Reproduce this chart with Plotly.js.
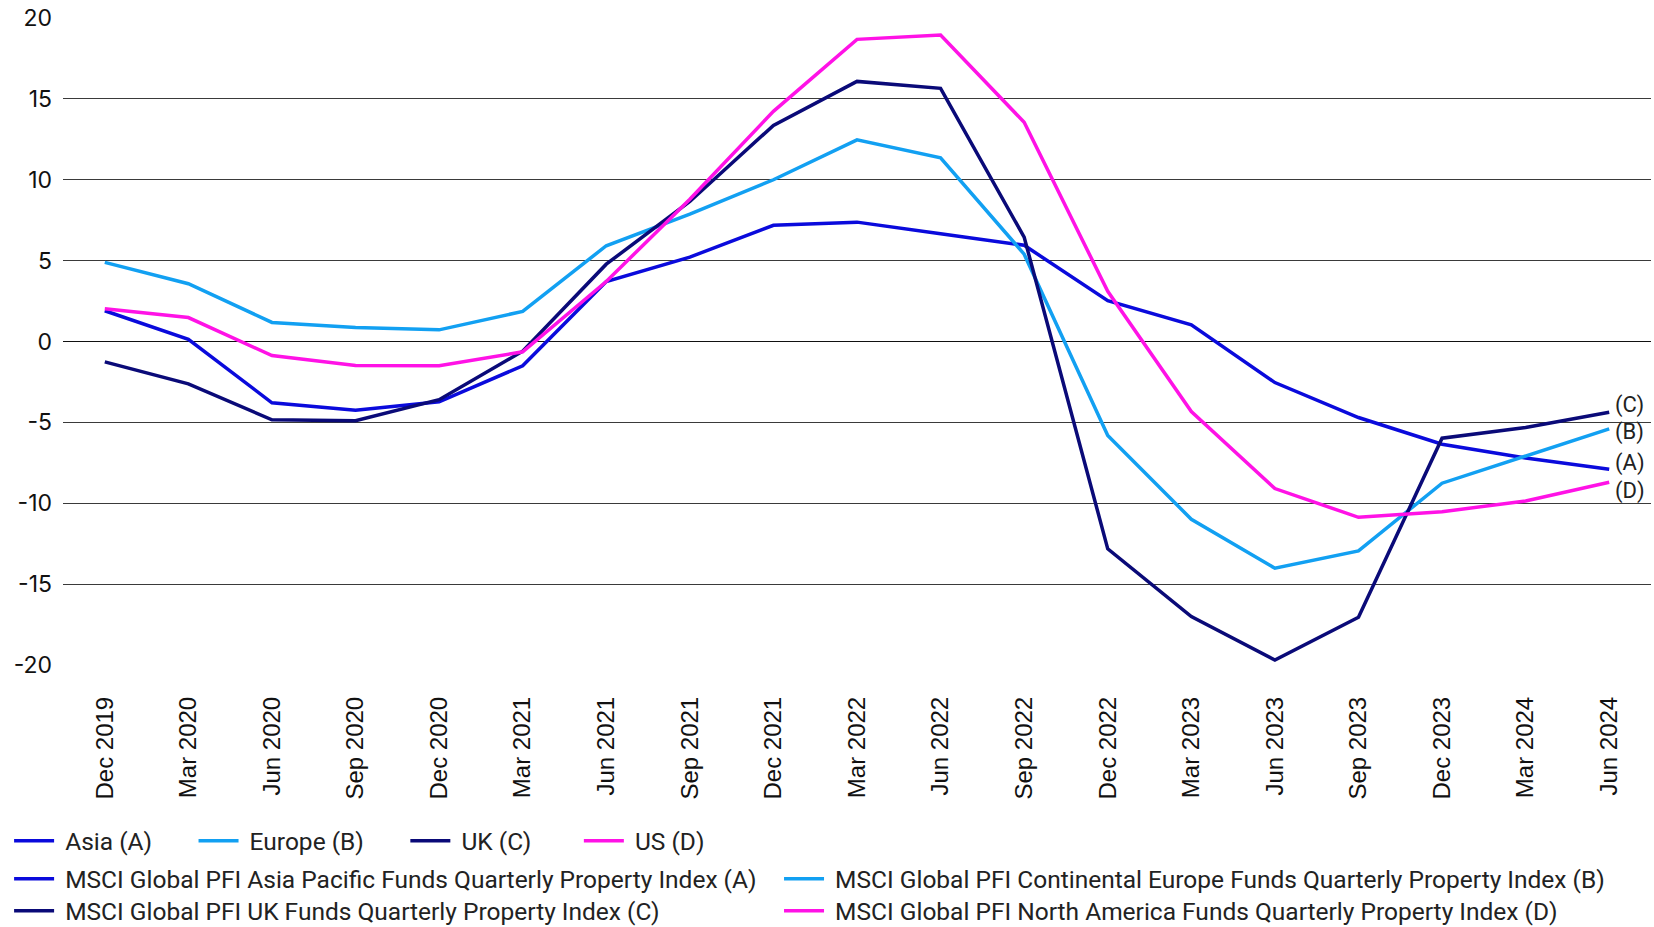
<!DOCTYPE html>
<html>
<head>
<meta charset="utf-8">
<script src="https://cdn.plot.ly/plotly-3.0.1.min.js"></script>
<style>html,body{margin:0;padding:0;background:#fff;}#chart{width:1654px;height:927px;}</style>
</head>
<body>
<div id="chart"></div>
<script>
const categories = ['Dec 2019','Mar 2020','Jun 2020','Sep 2020','Dec 2020','Mar 2021','Jun 2021','Sep 2021','Dec 2021','Mar 2022','Jun 2022','Sep 2022','Dec 2022','Mar 2023','Jun 2023','Sep 2023','Dec 2023','Mar 2024','Jun 2024'];
const asia   = [1.9, 0.14, -3.79, -4.25, -3.73, -1.5, 3.71, 5.22, 7.18, 7.38, 6.66, 5.95, 2.52, 1.03, -2.54, -4.7, -6.35, -7.2, -7.9];
const europe = [4.89, 3.57, 1.18, 0.87, 0.72, 1.86, 5.92, 7.88, 10.0, 12.47, 11.36, 5.4, -5.81, -10.99, -14.02, -12.95, -8.76, -7.07, -5.4];
const uk     = [-1.26, -2.62, -4.84, -4.9, -3.6, -0.6, 4.78, 8.66, 13.36, 16.08, 15.65, 6.45, -12.82, -17.01, -19.69, -17.05, -5.98, -5.32, -4.37];
const us     = [2.02, 1.48, -0.87, -1.48, -1.5, -0.64, 3.71, 8.8, 14.23, 18.68, 18.95, 13.55, 3.1, -4.33, -9.09, -10.87, -10.52, -9.86, -8.7];
const yTickVals = [-20, -15, -10, -5, 0, 5, 10, 15, 20];
const yTickText = ['-20', '-15', '-10', '-5', '0', '5', '10', '15', '20'];
const seriesNames = ['Asia (A)', 'Europe (B)', 'UK (C)', 'US (D)'];
const indexNames = ['MSCI Global PFI Asia Pacific Funds Quarterly Property Index (A)',
  'MSCI Global PFI Continental Europe Funds Quarterly Property Index (B)',
  'MSCI Global PFI UK Funds Quarterly Property Index (C)',
  'MSCI Global PFI North America Funds Quarterly Property Index (D)'];
const endLabels = ['(A)', '(B)', '(C)', '(D)'];

const colors = ['#0A0ADC', '#12A0F2', '#0A0A78', '#FF12E6'];
const allSeries = [asia, europe, uk, us];
const labelShiftPx = [6, -3, 7, -9];
const NB = '\u00a0';
const pad = [NB.repeat(6), NB.repeat(6), NB.repeat(7), ''];

const traces = allSeries.map((s, i) => ({
  x: categories, y: s, type: 'scatter', mode: 'lines',
  name: NB + seriesNames[i] + pad[i],
  line: {color: colors[i], width: 3.5},
  legend: 'legend', hoverinfo: 'x+y'
}));
const legendFor = ['legend2', 'legend3', 'legend4', 'legend5'];
[0, 1, 2, 3].forEach(i => {
  traces.push({
    x: [categories[0]], y: [null], type: 'scatter', mode: 'lines',
    name: NB + indexNames[i], line: {color: colors[i], width: 3.5},
    legend: legendFor[i], hoverinfo: 'skip'
  });
});

const annotations = allSeries.map((s, i) => ({
  x: categories[categories.length - 1], y: s[s.length - 1],
  xref: 'x', yref: 'y', text: endLabels[i], showarrow: false,
  xanchor: 'left', xshift: 4, yshift: labelShiftPx[i],
  font: {family: 'Roboto, sans-serif', size: 22, color: '#222'}
}));

const legendFont = {family: 'Roboto, sans-serif', size: 24.5, color: '#222'};
function leg(x, y) {
  return {orientation: 'h', xref: 'container', yref: 'container', x: x, xanchor: 'left',
    y: y, yanchor: 'middle', font: legendFont, itemwidth: 40, bgcolor: 'rgba(0,0,0,0)'};
}
const layout = {
  width: 1654, height: 927,
  margin: {l: 63, r: 3, t: 18, b: 262},
  paper_bgcolor: '#fff', plot_bgcolor: '#fff',
  showlegend: true,
  xaxis: {
    type: 'category', range: [-0.5, 18.5], showgrid: false, zeroline: false,
    showline: false, ticks: '', tickangle: -90, ticklabelstandoff: 26,
    tickfont: {family: 'Liberation Sans, Arial, sans-serif', size: 24, color: '#111'}
  },
  yaxis: {
    range: [-20, 20], tickmode: 'array', tickvals: yTickVals, ticktext: yTickText,
    showgrid: true, gridcolor: '#3a3a3a', gridwidth: 1,
    zeroline: true, zerolinecolor: '#111', zerolinewidth: 1.5, showline: false, ticks: '',
    ticklabelstandoff: 10,
    tickfont: {family: 'Inter, sans-serif', size: 23, color: '#111'}
  },
  shapes: [{
    type: 'rect', xref: 'paper', yref: 'y', x0: 0.9725, x1: 1.01, y0: -3, y1: -10.6,
    fillcolor: '#fff', line: {width: 0}, layer: 'between'
  }],
  annotations: annotations,
  legend: leg(0.0055, 0.093),
  legend2: leg(0.0055, 0.052),
  legend3: leg(0.471, 0.052),
  legend4: leg(0.0055, 0.0175),
  legend5: leg(0.471, 0.0175)
};
Plotly.newPlot('chart', traces, layout, {displayModeBar: false, staticPlot: true});
</script>
</body>
</html>
